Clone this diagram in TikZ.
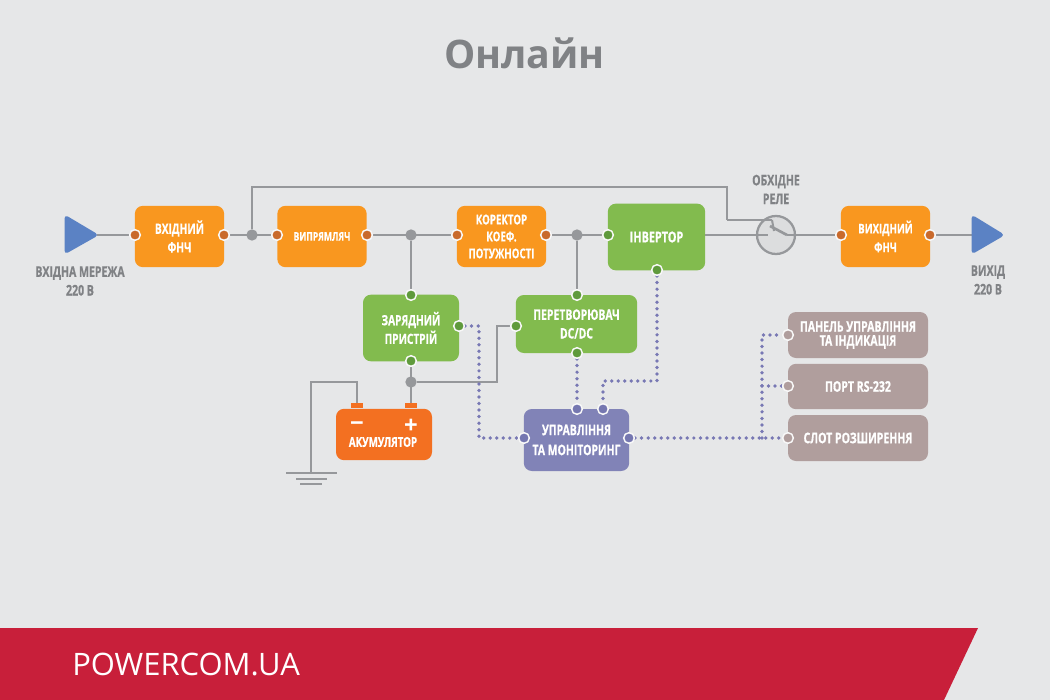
\documentclass[tikz,border=0pt]{standalone}
\usepackage{fontspec}
\setmainfont{Open Sans}[FakeStretch=0.72, Scale=1.055, BoldFeatures={FakeBold=0.6}]
\newfontfamily\bannerfont{Open Sans}
\usepackage{xcolor}
\usetikzlibrary{backgrounds,calc}

\definecolor{pagegray}{HTML}{E6E7E8}
\definecolor{wiregray}{HTML}{96989B}
\definecolor{textgray}{HTML}{808285}
\definecolor{boxorange}{HTML}{F9971F}
\definecolor{boxgreen}{HTML}{82BB4E}
\definecolor{boxviolet}{HTML}{8183B7}
\definecolor{boxtaupe}{HTML}{B09E9D}
\definecolor{battorange}{HTML}{F37021}
\definecolor{portorange}{HTML}{C96A2C}
\definecolor{portgreen}{HTML}{5F9A3C}
\definecolor{portviolet}{HTML}{7577B0}
\definecolor{dotviolet}{HTML}{7878B4}
\definecolor{arrowblue}{HTML}{5B82C4}
\definecolor{bannerred}{HTML}{C81F3A}

\tikzset{
  block/.style={rounded corners=6pt, align=center, text=white, inner sep=0pt, font=\fontsize{10}{14}\selectfont\bfseries},
  orangebox/.style={block, fill=boxorange, minimum width=67pt, minimum height=46pt},
  greenbox/.style={block, fill=boxgreen},
  taupebox/.style={block, fill=boxtaupe, minimum width=105pt, font=\fontsize{10.4}{10.5}\selectfont\bfseries},
  port/.style={circle, fill=#1, draw=pagegray!30!white, line width=1.1pt, inner sep=0pt, minimum size=8pt},
  junction/.style={circle, fill=wiregray, inner sep=0pt, minimum size=8.5pt},
  wire/.style={draw=wiregray, line width=2pt},
  dotwire/.style={draw=dotviolet, line width=2.8pt, line cap=round, dash pattern=on 0pt off 4.9pt},
  caption/.style={text=textgray, align=center, inner sep=0pt, font=\fontsize{10.4}{14}\selectfont\bfseries},
}

\begin{document}
\begin{tikzpicture}[x=0.75pt, y=-0.75pt]
    \useasboundingbox (0,0) rectangle (1050,700);
    \begin{scope}[on background layer]
    \fill [pagegray] (0,0) rectangle (1050,700);
    \end{scope}

    % Title and banner
    \node [text=textgray, font=\bannerfont\fontsize{29.5}{34}\selectfont\bfseries] (title) at (524.5,53) {Онлайн};
    \fill [bannerred] (0,628) -- (978,628) -- (944,700) -- (0,700) -- cycle;
    \node [anchor=west, inner sep=0pt, text=white, font=\bannerfont\fontsize{23.2}{24}\selectfont] (site) at (72,664) {POWERCOM.UA};

    % Input and output
    \fill [arrowblue, rounded corners=3pt] (64.5,214.5) -- (99,235) -- (64.5,254.5) -- cycle;
    \coordinate (intip) at (97,235);
    \node [caption] (inlabel) at (80,281) {ВХІДНА МЕРЕЖА\\220 В};
    \fill [arrowblue, rounded corners=3pt] (971.5,214.5) -- (1005,235) -- (971.5,254.5) -- cycle;
    \coordinate (outbase) at (972,235);
    \node [caption] (outlabel) at (988,280) {ВИХІД\\220 В};

    % Orange blocks
    \node [orangebox] (filterin) at (179.5,236.5) {ВХІДНИЙ\\ФНЧ};
    \node [orangebox, font=\fontsize{8.5}{12}\selectfont\bfseries] (rectifier) at (322,236.5) {ВИПРЯМЛЯЧ};
    \node [orangebox, font=\fontsize{9.6}{12.7}\selectfont\bfseries] (corrector) at (501.5,236.5) {КОРЕКТОР\\КОЕФ.\\ПОТУЖНОСТІ};
    \node [orangebox, font=\fontsize{9.5}{14}\selectfont\bfseries] (filterout) at (885.5,236.5) {ВИХІДНИЙ\\ФНЧ};

    % Green blocks
    \node [greenbox, minimum width=73pt, minimum height=50pt, font=\fontsize{10.7}{14}\selectfont\bfseries] (inverter) at (656.5,237) {ІНВЕРТОР};
    \node [greenbox, minimum width=72pt, minimum height=50pt] (charger) at (411,328) {ЗАРЯДНИЙ\\ПРИСТРІЙ};
    \node [greenbox, minimum width=91pt, minimum height=43.5pt, font=\fontsize{10.3}{14}\selectfont\bfseries] (converter) at (576.5,324) {ПЕРЕТВОРЮВАЧ\\DC/DC};

    % Battery
    \fill [battorange] (351,402.5) rectangle (363,407.5);
    \fill [battorange] (405,402.5) rectangle (417,407.5);
    \node [block, fill=battorange, minimum width=72pt, minimum height=38.5pt] (battery) at (384,434.5) {};
    \node [text=white, inner sep=0pt, font=\fontsize{9.7}{12}\selectfont\bfseries] (batlabel) at (383,442) {АКУМУЛЯТОР};
    \node [text=white, inner sep=0pt, font=\bannerfont\fontsize{18}{18}\selectfont\bfseries] (minus) at (357,427) {\char"2212};
    \node [text=white, inner sep=0pt, font=\bannerfont\fontsize{18}{18}\selectfont\bfseries] (plus) at (411,426) {+};
    \coordinate (batneg) at (357,403);
    \coordinate (batpos) at (411,403);

    % Control and interfaces
    \node [block, fill=boxviolet, minimum width=79pt, minimum height=46.5pt, font=\fontsize{10.3}{15}\selectfont\bfseries] (control) at (576.5,440) {УПРАВЛІННЯ\\ТА МОНІТОРИНГ};
    \node [taupebox, minimum height=34.5pt] (panel) at (858,335) {ПАНЕЛЬ УПРАВЛІННЯ\\ТА ІНДИКАЦІЯ};
    \node [taupebox, minimum height=34pt] (rsport) at (858,386.5) {ПОРТ RS-232};
    \node [taupebox, minimum height=34.5pt] (slot) at (858,438) {СЛОТ РОЗШИРЕННЯ};

    % Ports
    \node [port=portorange] (filterinL) at (135,235) {};
    \node [port=portorange] (filterinR) at (224,235) {};
    \node [port=portorange] (rectifierL) at (277,235) {};
    \node [port=portorange] (rectifierR) at (367,235) {};
    \node [port=portorange] (correctorL) at (457,235) {};
    \node [port=portorange] (correctorR) at (546,235) {};
    \node [port=portorange] (filteroutL) at (841,235) {};
    \node [port=portorange] (filteroutR) at (930,235) {};
    \node [port=portgreen] (inverterL) at (608,235) {};
    \node [port=portgreen] (inverterB) at (657,270) {};
    \node [port=portgreen] (chargerT) at (411,295) {};
    \node [port=portgreen] (chargerB) at (411,361) {};
    \node [port=portgreen] (chargerR) at (459,326) {};
    \node [port=portgreen] (converterT) at (577,295) {};
    \node [port=portgreen] (converterL) at (516,326) {};
    \node [port=portgreen] (converterB) at (577,353) {};
    \node [port=portviolet] (controlL) at (524,438) {};
    \node [port=portviolet] (controlR) at (629,438) {};
    \node [port=portviolet] (controlA) at (577,409) {};
    \node [port=portviolet] (controlB) at (603,409) {};
    \node [port=boxtaupe] (panelL) at (788,335) {};
    \node [port=boxtaupe] (rsportL) at (788,386) {};
    \node [port=boxtaupe] (slotL) at (788,438) {};

    % Junctions
    \node [junction] (bypass) at (252,235) {};
    \node [junction] (busA) at (411,235) {};
    \node [junction] (busB) at (577,235) {};
    \node [junction] (batnode) at (411,382) {};
    \coordinate (dotnode) at (762,438);
    \coordinate (rsnode) at (762,386);

    % Relay
    \node [circle, draw=wiregray, fill=pagegray!90!gray, line width=1.7pt, inner sep=0pt, minimum size=28.5pt] (relay) at (776,235) {};
    \node [caption] (relaylabel) at (776,189.5) {ОБХІДНЕ\\РЕЛЕ};
    \coordinate (contactL) at (768,235);
    \coordinate (contactR) at (787,235);
    \coordinate (coilend) at (772,220);
    \draw [wire] (inverter.east |- contactL) -- (contactL);
    \draw [wire] (contactR) -- (filteroutL);
    \draw [wire] (770,226) -- (contactR);
    \draw [wire, line width=1.5pt] (coilend) -- (774,231);
    \draw [wire] (727,220) -- (coilend);

    % Connections
    \begin{scope}[on background layer]
    \draw [wire] (intip) -- (filterinL);
    \draw [wire] (filterinR) -- (rectifierL);
    \draw [wire] (rectifierR) -- (correctorL);
    \draw [wire] (correctorR) -- (inverterL);
    \draw [wire] (filteroutR) -- (outbase);
    \draw [wire] (bypass) |- (727,187) -- (727,220);
    \draw [wire] (busA) -- (chargerT);
    \draw [wire] (busB) -- (converterT);
    \draw [wire] (chargerB) -- (batpos);
    \draw [wire] (batnode) -| (497,326) -- (converterL);
    \draw [wire] (batneg) |- (311,382) -- (311,473);

    % Ground
    \draw [wire] (286,473) -- (337,473);
    \draw [wire] (296,479) -- (327,479);
    \draw [wire] (300,484) -- (322,484);

    % Control lines
    \draw [dotwire] (chargerR) -| (479,438) -- (controlL);
    \draw [dotwire] (converterB) -- (controlA);
    \draw [dotwire] (inverterB) |- (603,381) -- (controlB);
    \draw [dotwire] (controlR) -- (slotL);
    \draw [dotwire] (dotnode) |- (panelL);
    \draw [dotwire] (rsnode) -- (rsportL);
    \end{scope}
\end{tikzpicture}
\end{document}
